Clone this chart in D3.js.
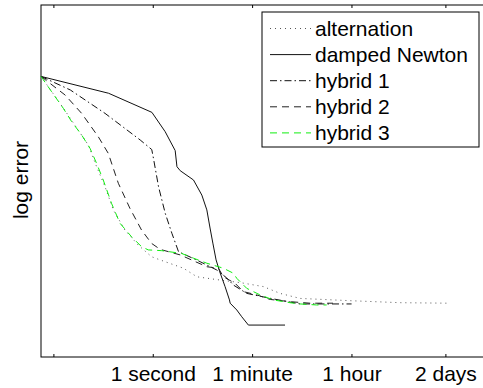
<!DOCTYPE html>
<html>
<head>
<meta charset="utf-8">
<script src="https://cdn.jsdelivr.net/npm/d3@7"></script>
<style>
  body { margin: 0; background: #fff; }
  text { font-family: "Liberation Sans", Arial, sans-serif; fill: #000; }
</style>
</head>
<body>
<div id="vis"></div>
<script>
// datos: [tiempo en segundos, log error]
const alternation = [
  [0.01, -0.84], [0.0251, -2.10], [0.0703, -3.57], [0.0989, -4.43], [0.140, -5.23],
  [0.197, -6.15], [0.318, -6.95], [0.551, -7.55], [0.95, -8.01], [1.36, -8.14],
  [3.55, -8.47], [6.17, -8.81], [16.1, -8.94], [36.6, -9.04], [95.5, -9.20],
  [190, -9.47], [432, -9.67], [3380, -9.76], [26500, -9.84], [193000, -9.86]
];
const dampedNewton = [
  [0.01, -0.84], [0.162, -1.51], [0.966, -2.27], [1.67, -3.04], [2.52, -3.79],
  [2.71, -4.43], [3.10, -4.59], [5.36, -4.96], [7.56, -5.56], [9.29, -6.15],
  [10.6, -6.87], [11.9, -7.47], [13.6, -8.14], [16.1, -8.66], [19.7, -9.20],
  [23.6, -9.73], [24.3, -9.86], [31.9, -10.13], [39.2, -10.40], [51.5, -10.73],
  [233, -10.73]
];
const hybrid1 = [
  [0.01, -0.84], [0.0335, -1.38], [0.140, -2.31], [0.597, -3.37], [0.96, -3.75],
  [1.03, -4.10], [1.27, -5.23], [1.67, -6.28], [2.20, -7.08], [2.89, -7.81],
  [3.55, -7.90], [7.05, -8.21], [14.0, -8.54], [21.2, -8.86], [27.8, -9.14],
  [48.2, -9.47], [110, -9.64], [432, -9.89], [3620, -9.89]
];
const hybrid2 = [
  [0.01, -0.84], [0.027, -1.58], [0.0534, -2.31], [0.106, -3.24], [0.160, -3.90],
  [0.242, -5.09], [0.391, -6.09], [0.630, -6.95], [0.95, -7.48], [1.36, -7.72],
  [3.10, -7.94], [9.29, -8.41], [15.0, -8.47], [18.4, -8.81], [29.8, -9.07],
  [41.9, -9.40], [72.7, -9.53], [126, -9.71], [286, -9.80], [652, -9.86], [1680, -9.86]
];
const hybrid3 = [
  [0.01, -0.84], [0.0155, -1.45], [0.0251, -2.11], [0.0354, -2.64], [0.0534, -3.17],
  [0.0754, -3.70], [0.0989, -4.30], [0.130, -4.96], [0.183, -5.89], [0.259, -6.68],
  [0.418, -7.22], [0.630, -7.61], [0.83, -7.74], [1.44, -7.77], [3.27, -7.88],
  [5.36, -8.07], [9.29, -8.27], [18.4, -8.47], [27.8, -8.67], [31.9, -8.87],
  [48.2, -9.27], [83.3, -9.53], [144, -9.73], [286, -9.84], [432, -9.89],
  [859, -9.93], [1297, -9.93]
];

const seriesNames = ["alternation", "damped Newton", "hybrid 1", "hybrid 2", "hybrid 3"];
const tickValues = [1 / 60, 1, 60, 3600, 172800];
const tickLabels = ["", "1 second", "1 minute", "1 hour", "2 days"];

// estilos de linea tipo matlab
const estilos = [
  { color: "#555", dash: "1,4" },
  { color: "#111", dash: null },
  { color: "#111", dash: "7,3,1.5,3" },
  { color: "#222", dash: "7,5" },
  { color: "#1e1", dash: "7,5" },
];

const SVG_WIDTH = 483;
const SVG_HEIGHT = 388;

const MARGIN = { top: 5, bottom: 31, left: 41, right: -5 };

const SVG = d3.select("#vis").append("svg")
  .attr("width", SVG_WIDTH).attr("height", SVG_HEIGHT);

const x = d3.scaleLog()
  .domain([0.01, 1e6])
  .range([MARGIN.left, SVG_WIDTH - MARGIN.right]);

const y = d3.scaleLinear()
  .domain([-12, 2])
  .range([SVG_HEIGHT - MARGIN.bottom, MARGIN.top]);

// caja de ejes
const x0 = x.range()[0], x1 = x.range()[1];
const y0 = y.range()[0], y1 = y.range()[1];

SVG.append("rect")
  .attr("x", x0).attr("y", y1)
  .attr("width", x1 - x0).attr("height", y0 - y1)
  .attr("fill", "none").attr("stroke", "#000").attr("stroke-width", 1);

// eje X abajo (ticks hacia adentro)
const ejeX = d3.axisBottom(x)
  .tickValues(tickValues)
  .tickSize(-3)
  .tickPadding(9)
  .tickFormat((d, i) => tickLabels[i]);

SVG.append("g")
  .attr("transform", `translate(0, ${y0})`)
  .call(ejeX)
  .call(g => g.select(".domain").remove())
  .call(g => g.selectAll("line").attr("stroke", "#000"))
  .call(g => g.selectAll("text").attr("font-size", 21).attr("font-family", "Liberation Sans, Arial, sans-serif"));

// ticks arriba
SVG.append("g")
  .attr("transform", `translate(0, ${y1})`)
  .call(d3.axisTop(x).tickValues(tickValues).tickSize(-3).tickFormat(""))
  .call(g => g.select(".domain").remove())
  .call(g => g.selectAll("line").attr("stroke", "#000"));

// label eje Y
SVG.append("text")
  .text("log error")
  .attr("transform", `translate(27.5, 180) rotate(-90)`)
  .attr("text-anchor", "middle")
  .attr("font-size", 21);

// lineas
const linea = d3.line()
  .x(d => x(d[0]))
  .y(d => y(d[1]));

const todas = [alternation, dampedNewton, hybrid1, hybrid2, hybrid3];

SVG.append("g").selectAll("path")
  .data(todas)
  .join("path")
  .attr("d", linea)
  .attr("fill", "none")
  .attr("stroke", (d, i) => estilos[i].color)
  .attr("stroke-width", 1)
  .attr("stroke-dasharray", (d, i) => estilos[i].dash);

// leyenda
const leyenda = SVG.append("g");
leyenda.append("rect")
  .attr("x", 262).attr("y", 12)
  .attr("width", 217).attr("height", 135)
  .attr("fill", "#fff").attr("stroke", "#000").attr("stroke-width", 1);

const filas = leyenda.selectAll("g.fila")
  .data(seriesNames)
  .join("g")
  .attr("class", "fila")
  .attr("transform", (d, i) => `translate(0, ${28.5 + i * 26.1})`);

filas.append("line")
  .attr("x1", 270).attr("x2", 311)
  .attr("stroke", (d, i) => estilos[i].color)
  .attr("stroke-width", 1)
  .attr("stroke-dasharray", (d, i) => estilos[i].dash);

filas.append("text")
  .text(d => d)
  .attr("x", 315)
  .attr("dy", "0.35em")
  .attr("font-size", 21);
</script>
</body>
</html>
